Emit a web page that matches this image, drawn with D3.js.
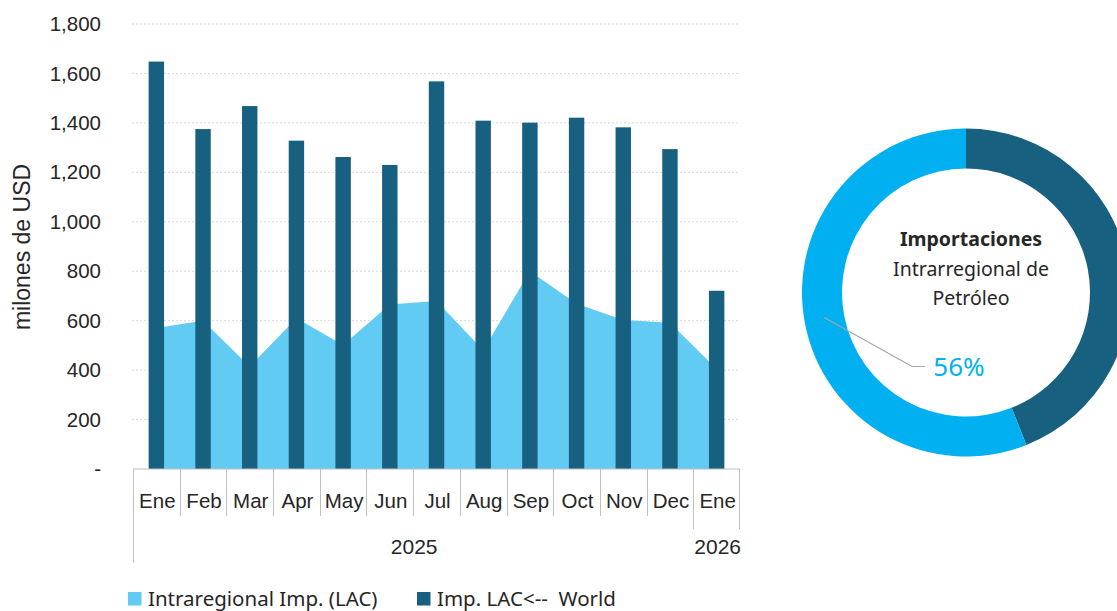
<!DOCTYPE html>
<html>
<head>
<meta charset="utf-8">
<script src="https://cdn.jsdelivr.net/npm/d3@7"></script>
<style>
  body { margin: 0; background: #fff; }
  svg { display: block; }
</style>
</head>
<body>
<div id="chart-area"></div>
<script>
// data
const months = ["Ene", "Feb", "Mar", "Apr", "May", "Jun", "Jul", "Aug", "Sep", "Oct", "Nov", "Dec", "Ene"];
const years = ["2025", "2025", "2025", "2025", "2025", "2025", "2025", "2025", "2025", "2025", "2025", "2025", "2026"];
const worldImports = [1648, 1375, 1468, 1328, 1262, 1230, 1568, 1409, 1401, 1421, 1382, 1294, 721];
const intraImports = [570, 600, 415, 610, 502, 665, 680, 480, 800, 668, 603, 592, 405];
const yTicks = [0, 200, 400, 600, 800, 1000, 1200, 1400, 1600, 1800];
const donutLabels = ["Imp. LAC<-- World", "Intraregional Imp. (LAC)"];
const donutShares = [44, 56];

const W = 1117, H = 611;
const darkBlue = "#17607f", areaBlue = "#62cbf3", donutBlue = "#00b0f0";
const axisFont = "'Liberation Sans', Arial, sans-serif";
const textFont = "'Noto Sans', sans-serif";

const svg = d3.select("#chart-area").append("svg")
  .attr("width", W)
  .attr("height", H);

const keys = months.map((m, i) => `${m} ${years[i]}`);
const rows = keys.map((k, i) => ({ key: k, month: months[i], year: years[i], world: worldImports[i], intra: intraImports[i] }));

const plot = { left: 133, right: 740, top: 24, bottom: 469 };

const x = d3.scaleBand()
  .domain(keys)
  .range([plot.left, plot.right])
  .padding(0);
const y = d3.scaleLinear()
  .domain([0, 1800])
  .range([plot.bottom, plot.top]);

// gridlines
svg.append("g")
  .selectAll("line")
  .data(yTicks.filter(d => d > 0))
  .enter()
  .append("line")
  .attr("x1", plot.left - 1)
  .attr("x2", plot.right)
  .attr("y1", d => y(d))
  .attr("y2", d => y(d))
  .attr("stroke", "#d9d9d9")
  .attr("stroke-width", 1)
  .attr("stroke-dasharray", "2,2");

// area (intraregional)
const area = d3.area()
  .x(d => x(d.key) + x.bandwidth() / 2)
  .y0(y(0))
  .y1(d => y(d.intra));
svg.append("path")
  .datum(rows)
  .attr("d", area)
  .attr("fill", areaBlue);

// bars (world)
const barW = x.bandwidth() * 0.33;
svg.append("g")
  .selectAll("rect")
  .data(rows)
  .enter()
  .append("rect")
  .attr("x", d => x(d.key) + (x.bandwidth() - barW) / 2)
  .attr("y", d => y(d.world))
  .attr("width", barW)
  .attr("height", d => y(0) - y(d.world))
  .attr("fill", darkBlue);

// y axis
const yAxis = d3.axisLeft(y)
  .tickValues(yTicks)
  .tickSize(0)
  .tickPadding(32)
  .tickFormat(d => d === 0 ? "-" : d3.format(",")(d));
const yg = svg.append("g")
  .attr("transform", `translate(${plot.left}, 0)`)
  .call(yAxis);
yg.select(".domain").remove();
yg.selectAll("text")
  .attr("font-family", axisFont)
  .attr("font-size", 20.5)
  .attr("fill", "#262626");

svg.append("text")
  .attr("transform", `translate(30, 247) rotate(-90)`)
  .attr("text-anchor", "middle")
  .attr("font-family", axisFont)
  .attr("font-size", 23)
  .attr("fill", "#262626")
  .text("milones de USD");

// category axis with two levels
const gridGray = "#bfbfbf";
const xg = svg.append("g");
xg.append("line")
  .attr("x1", plot.left).attr("x2", plot.right)
  .attr("y1", plot.bottom).attr("y2", plot.bottom)
  .attr("stroke", gridGray);

xg.selectAll(".sep")
  .data(keys)
  .enter()
  .append("line")
  .attr("class", "sep")
  .attr("x1", d => Math.round(x(d)) + 0.5)
  .attr("x2", d => Math.round(x(d)) + 0.5)
  .attr("y1", plot.bottom)
  .attr("y2", (d, i) => {
    if (i === 0) return 563;
    if (years[i] !== years[i - 1]) return 529;
    return 516;
  })
  .attr("stroke", gridGray);
xg.append("line")
  .attr("x1", plot.right - 0.5).attr("x2", plot.right - 0.5)
  .attr("y1", plot.bottom).attr("y2", 529)
  .attr("stroke", gridGray);

xg.selectAll(".month")
  .data(rows)
  .enter()
  .append("text")
  .attr("class", "month")
  .attr("x", d => x(d.key) + x.bandwidth() / 2 + 1)
  .attr("y", 508)
  .attr("text-anchor", "middle")
  .attr("font-family", axisFont)
  .attr("font-size", 20.5)
  .attr("fill", "#262626")
  .text(d => d.month);

const yearGroups = d3.groups(rows, d => d.year);
xg.selectAll(".year")
  .data(yearGroups)
  .enter()
  .append("text")
  .attr("class", "year")
  .attr("x", d => {
    const first = d[1][0].key, last = d[1][d[1].length - 1].key;
    return (x(first) + x(last) + x.bandwidth()) / 2 + 1;
  })
  .attr("y", 554)
  .attr("text-anchor", "middle")
  .attr("font-family", axisFont)
  .attr("font-size", 21)
  .attr("fill", "#262626")
  .text(d => d[0]);

// legend
const legend = [
  { label: "Intraregional Imp. (LAC)", color: areaBlue, x: 128 },
  { label: "Imp. LAC<--  World", color: darkBlue, x: 417 }
];
const lg = svg.append("g")
  .selectAll("g")
  .data(legend)
  .enter()
  .append("g")
  .attr("transform", d => `translate(${d.x}, 592)`);
lg.append("rect")
  .attr("width", 13.5)
  .attr("height", 13.5)
  .attr("fill", d => d.color);
lg.append("text")
  .attr("x", 20)
  .attr("y", 14)
  .attr("font-family", textFont)
  .attr("font-size", 20.5)
  .attr("fill", "#262626")
  .style("white-space", "pre")
  .text(d => d.label);

// donut
const cx = 966, cy = 292.5, rOuter = 164, rInner = 124;
const pie = d3.pie().sort(null).value(d => d.share);
const arc = d3.arc().innerRadius(rInner).outerRadius(rOuter);
const donutData = donutLabels.map((l, i) => ({ label: l, share: donutShares[i] }));
const dg = svg.append("g").attr("transform", `translate(${cx}, ${cy})`);
dg.selectAll("path")
  .data(pie(donutData))
  .enter()
  .append("path")
  .attr("d", arc)
  .attr("fill", (d, i) => i === 0 ? darkBlue : donutBlue);

// leader line for the percentage label
const a = 260 * Math.PI / 180, rMid = (rInner + rOuter) / 2;
const p0 = [rMid * Math.sin(a), -rMid * Math.cos(a)];
dg.append("polyline")
  .attr("points", [p0, [-54, 74], [-41, 74]].map(p => p.join(",")).join(" "))
  .attr("fill", "none")
  .attr("stroke", "#a6a6a6")
  .attr("stroke-width", 1.2);
dg.append("text")
  .attr("x", -7)
  .attr("y", 83.5)
  .attr("text-anchor", "middle")
  .attr("font-family", textFont)
  .attr("font-size", 26)
  .attr("fill", donutBlue)
  .text(d3.format(".0f")(donutShares[1]) + "%");

const centerLines = [
  { t: "Importaciones", w: "bold", dy: -47 },
  { t: "Intrarregional de", w: "normal", dy: -16.5 },
  { t: "Petróleo", w: "normal", dy: 12.5 }
];
dg.selectAll(".ctr")
  .data(centerLines)
  .enter()
  .append("text")
  .attr("class", "ctr")
  .attr("x", 5)
  .attr("y", d => d.dy)
  .attr("text-anchor", "middle")
  .attr("font-family", textFont)
  .attr("font-size", 19.5)
  .attr("font-weight", d => d.w)
  .attr("fill", "#262626")
  .text(d => d.t);
</script>
</body>
</html>
